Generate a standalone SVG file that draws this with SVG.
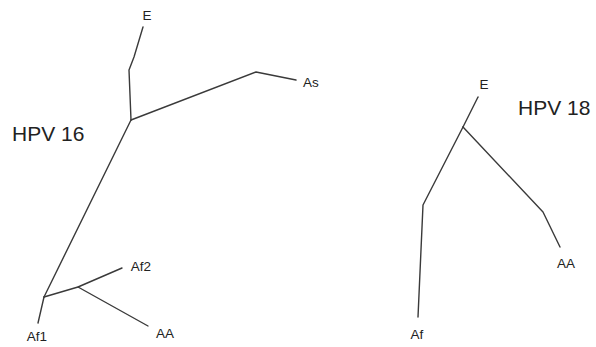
<svg xmlns="http://www.w3.org/2000/svg" width="596" height="347" viewBox="0 0 596 347">
<style>
.br{fill:none;stroke:#3a3a3a;stroke-width:1.4;stroke-linejoin:round;stroke-linecap:round}
.lb{font-family:"Liberation Sans",Arial,sans-serif;font-size:13.5px;fill:#222;text-anchor:middle}
.tt{font-family:"Liberation Sans",Arial,sans-serif;font-size:21px;fill:#222}
</style>
<rect width="596" height="347" fill="#fff"/>
<g id="connectors">
<path class="br" d="M143,27 L134,57 L129,70 L131,120"/>
<path class="br" d="M131,120 L256,72 L296,80"/>
<path class="br" d="M131,120 L44,297"/>
<path class="br" d="M44,297 L38,323"/>
<path class="br" d="M44,297 L78,287 L122,268"/>
<path class="br" d="M78,287 L148,326"/>
<path class="br" d="M478,97 L463,127"/>
<path class="br" d="M463,127 L423,205 L418,317"/>
<path class="br" d="M463,127 L543,212 L560,247"/>
</g>
<g id="title16"><text class="tt" x="12" y="141">HPV 16</text></g>
<g id="title18"><text class="tt" x="518" y="115">HPV 18</text></g>
<g id="n16E"><text class="lb" x="147" y="20">E</text></g>
<g id="n16As"><text class="lb" x="311" y="87">As</text></g>
<g id="n16Af2"><text class="lb" x="141" y="271">Af2</text></g>
<g id="n16AA"><text class="lb" x="165" y="338">AA</text></g>
<g id="n16Af1"><text class="lb" x="37" y="341">Af1</text></g>
<g id="n18E"><text class="lb" x="484" y="89">E</text></g>
<g id="n18AA"><text class="lb" x="566" y="268">AA</text></g>
<g id="n18Af"><text class="lb" x="417" y="339">Af</text></g>
</svg>
